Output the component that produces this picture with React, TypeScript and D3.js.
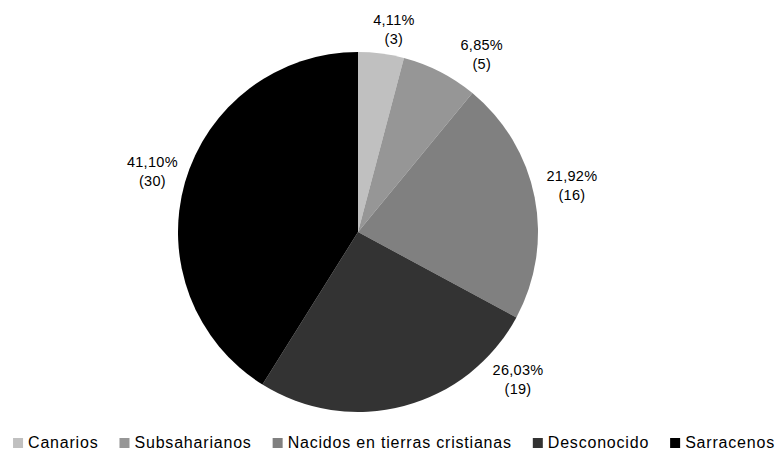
import React, { useEffect, useRef } from "react";
import * as d3 from "d3";

const categories = ["Canarios", "Subsaharianos", "Nacidos en tierras cristianas", "Desconocido", "Sarracenos"];
const counts = [3, 5, 16, 19, 30];
const percentLabels = ["4,11%", "6,85%", "21,92%", "26,03%", "41,10%"];
const colors = ["#c0c0c0", "#969696", "#808080", "#333333", "#000000"];

// label layout tweaks (degrees offset from slice mid-angle, radius of label centre)
const labelAngleOffset = [2.9, 8.6, 0, -31.6, -0.9];
const labelRadius = [201, 212, 218, 221, 213];

const W = 779;
const H = 452;
const CX = 358;
const CY = 232;
const R = 180;
const FONT = "'Liberation Sans', Arial, sans-serif";

export default function App() {
  const ref = useRef<SVGSVGElement | null>(null);

  useEffect(() => {
    const svg = d3.select(ref.current);
    svg.selectAll("*").remove();

    const data = categories.map((c, i) => ({ name: c, value: counts[i], pct: percentLabels[i], color: colors[i], i }));
    const pie = d3.pie<any>().value((d) => d.value).sort(null);
    const arcs = pie(data);
    const arc = d3.arc<any>().innerRadius(0).outerRadius(R);

    const g = svg.append("g").attr("transform", `translate(${CX},${CY})`);
    g.selectAll("path")
      .data(arcs)
      .join("path")
      .attr("d", arc as any)
      .attr("fill", (d: any) => d.data.color);

    const lg = g.selectAll("g.lbl").data(arcs).join("g").attr("class", "lbl");
    lg.each(function (d: any) {
      const i = d.data.i;
      const mid = (d.startAngle + d.endAngle) / 2 + (labelAngleOffset[i] * Math.PI) / 180;
      const r = labelRadius[i];
      const x = Math.sin(mid) * r;
      const y = -Math.cos(mid) * r;
      const t = d3
        .select(this)
        .append("text")
        .attr("text-anchor", "middle")
        .attr("font-family", FONT)
        .attr("font-size", 14.5)
        .attr("letter-spacing", 0.3)
        .attr("fill", "#000");
      t.append("tspan").attr("x", x).attr("y", y - 9.5).text(d.data.pct);
      t.append("tspan").attr("x", x).attr("y", y + 9.5).text(`(${d.data.value})`);
    });

    // legend
    const leg = svg.append("g");
    const sq = 10;
    const gapSq = 5;
    const gapItem = 21;
    const items = leg.selectAll("g").data(data).join("g");
    items
      .append("text")
      .attr("font-family", FONT)
      .attr("font-size", 16)
      .attr("letter-spacing", 0.8)
      .attr("fill", "#000")
      .attr("y", 448)
      .text((d) => d.name);
    const widths: number[] = [];
    items.select("text").each(function () {
      widths.push((this as SVGTextElement).getComputedTextLength());
    });
    const total = widths.reduce((a, b) => a + b + sq + gapSq, 0) + gapItem * (widths.length - 1);
    let x = 394 - total / 2;
    items.each(function (d, i) {
      const it = d3.select(this);
      it.insert("rect", "text").attr("x", x).attr("y", 438).attr("width", sq).attr("height", sq).attr("fill", d.color);
      it.select("text").attr("x", x + sq + gapSq);
      x += sq + gapSq + widths[i] + gapItem;
    });
  }, []);

  return (
    <svg
      ref={ref}
      width={W}
      height={H}
      style={{ position: "absolute", left: 0, top: 0, background: "#fff" }}
    />
  );
}
